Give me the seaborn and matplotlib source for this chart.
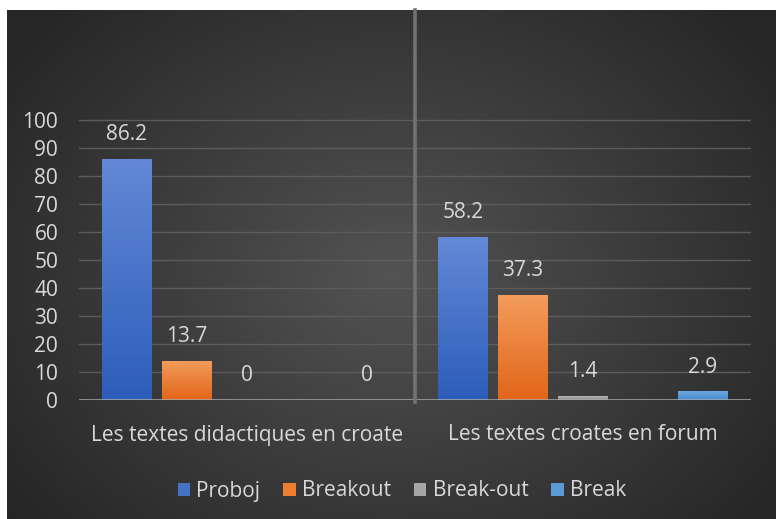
import numpy as np
import pandas as pd
import matplotlib.pyplot as plt
import seaborn as sns
from matplotlib.patches import Patch
from matplotlib.colors import to_rgb

# data
categories = ['Les textes didactiques en croate', 'Les textes croates en forum']
series = ['Proboj', 'Breakout', 'Break-out', 'Break']
proboj = [86.2, 58.2]
breakout = [13.7, 37.3]
break_out = [0.0, 1.4]
break_ = [0.0, 2.9]

# the original chart keeps an empty (unnamed) series slot between Break-out and Break
hue_order = ['Proboj', 'Breakout', 'Break-out', '(vide)', 'Break']
yticks = list(range(0, 101, 10))

colors = {'Proboj': '#4472C4', 'Breakout': '#ED7D31', 'Break-out': '#A5A5A5',
          '(vide)': '#000000', 'Break': '#5B9BD5'}
grad_top = {'Proboj': '#6389d6', 'Breakout': '#f39c5c', 'Break-out': '#c4c4c4', 'Break': '#71abe3'}
grad_bot = {'Proboj': '#2d5dbb', 'Breakout': '#e2661a', 'Break-out': '#959595', 'Break': '#4a8dcf'}

df = pd.DataFrame({
    'cat': categories * 4,
    'serie': [s for s in series for _ in categories],
    'value': proboj + breakout + break_out + break_,
})

plt.rcParams['font.family'] = ['Open Sans', 'DejaVu Sans']
txt = '#d9d9d9'

fig = plt.figure(figsize=(7.77, 5.19), dpi=100)
fig.patch.set_facecolor('white')

# radial gradient background
bg = fig.add_axes([7 / 777, 0, 1 - 8 / 777, 509 / 519], zorder=-1)
h, w = 300, 460
yy, xx = np.mgrid[0:h, 0:w]
r = np.sqrt(((xx - w * 0.5) / (w * 0.62)) ** 2 + ((yy - h * 0.52) / (h * 0.75)) ** 2)
r = np.clip(r, 0, 1)
c_in, c_out = np.array(to_rgb('#535353')), np.array(to_rgb('#262626'))
img = c_in[None, None, :] + (c_out - c_in)[None, None, :] * r[:, :, None]
bg.imshow(img, aspect='auto', extent=[0, 1, 0, 1])
bg.axis('off')

ax = fig.add_axes([79 / 777, 119.5 / 519, 672 / 777, 389.5 / 519])
ax.set_facecolor('none')
sns.barplot(data=df, x='cat', y='value', hue='serie', hue_order=hue_order,
            order=categories, palette=colors, width=0.893, gap=0.18, saturation=1,
            legend=False, errorbar=None, ax=ax, zorder=3)

# find the series of each container from its colour
def series_of(cont):
    fc = np.array(cont.patches[0].get_facecolor()[:3])
    for s in series:
        if np.allclose(fc, to_rgb(colors[s]), atol=0.02):
            return s
    return None

# vertical gradient on each bar + value labels
for cont in ax.containers:
    if len(cont.patches) == 0:
        continue
    name = series_of(cont)
    if name is None:
        continue
    for p in cont.patches:
        if p.get_height() <= 0:
            continue
        x0, y0, bw, bh = p.get_x(), p.get_y(), p.get_width(), p.get_height()
        t = np.linspace(0, 1, 64)[:, None]
        cb, ct = np.array(to_rgb(grad_bot[name])), np.array(to_rgb(grad_top[name]))
        g = (cb + (ct - cb) * t)[:, None, :]
        im = ax.imshow(g, extent=[x0, x0 + bw, y0, y0 + bh], origin='lower',
                       aspect='auto', zorder=3.5)
        im.set_clip_path(p)
    ax.bar_label(cont, fmt='%g', padding=10, color=txt, fontsize=15)

ax.set_xlim(-0.5, 1.5)
ax.set_ylim(0, 139.4)
ax.set_yticks(yticks)
ax.set_xlabel('')
ax.set_ylabel('')
for s in ax.spines.values():
    s.set_visible(False)
ax.yaxis.grid(True, color='#5c5c5c', lw=1)
ax.set_axisbelow(True)
ax.tick_params(axis='y', length=0, pad=15, labelcolor=txt, labelsize=15)
ax.tick_params(axis='x', length=0, pad=18, labelcolor=txt, labelsize=15)
ax.axhline(0, color='#a6a6a6', lw=1.8, zorder=5)
ax.axvline(0.5, ymin=-0.007, ymax=1, color='#767171', lw=2.6, zorder=6, clip_on=False)

handles = [Patch(facecolor=colors[s], edgecolor='none') for s in series]
fig.legend(handles, series, loc='center', bbox_to_anchor=(402 / 777, 1 - 491 / 519),
           ncol=4, frameon=False, fontsize=15, labelcolor=txt,
           handlelength=0.6, handleheight=0.6, handletextpad=0.3, columnspacing=1.1)

fig.savefig('out.png', dpi=100)
